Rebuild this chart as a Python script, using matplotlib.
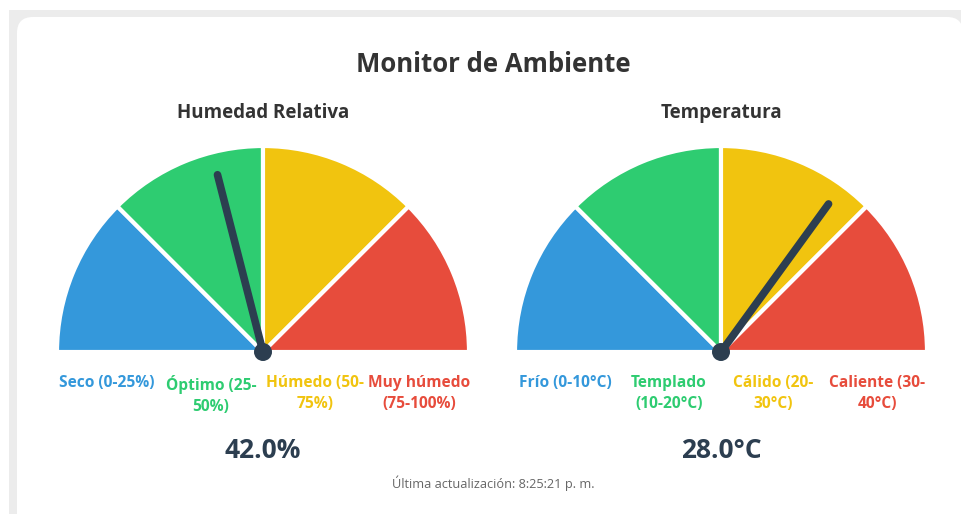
import matplotlib.pyplot as plt
import matplotlib as mpl
from matplotlib.patches import Wedge, Rectangle, FancyBboxPatch, Circle
import numpy as np
mpl.use('Agg')

plt.rcParams['font.family'] = ['Open Sans', 'DejaVu Sans']

# datos
titulo = 'Monitor de Ambiente'
colores = ['#3498db', '#2ecc71', '#f1c40f', '#e74c3c']

hum_titulo = 'Humedad Relativa'
hum_valor = 42.0
hum_min, hum_max = 0, 100
hum_labels = ['Seco (0-25%)', 'Óptimo (25-\n50%)', 'Húmedo (50-\n75%)', 'Muy húmedo\n(75-100%)']
hum_texto = '42.0%'

temp_titulo = 'Temperatura'
temp_valor = 28.0
temp_min, temp_max = 0, 40
temp_labels = ['Frío (0-10°C)', 'Templado\n(10-20°C)', 'Cálido (20-\n30°C)', 'Caliente (30-\n40°C)']
temp_texto = '28.0°C'

pie = 'Última actualización: 8:25:21 p. m.'

W, H = 961, 514
fig = plt.figure(figsize=(W / 100, H / 100), dpi=100)
ax = fig.add_axes([0, 0, 1, 1])
ax.set_xlim(0, W)
ax.set_ylim(0, H)
ax.axis('off')

# fondo gris y tarjeta blanca
ax.add_patch(Rectangle((9, -20), W, H - 10 + 20, facecolor='#ececec', edgecolor='none'))
ax.add_patch(FancyBboxPatch((17, -40), 946, H - 17 + 40, boxstyle='round,pad=0,rounding_size=16',
                            facecolor='white', edgecolor='none'))

ax.text(493, H - 65, titulo, ha='center', va='center', fontsize=18.5, fontweight='bold', color='#333333')


def gauge(cx, nombre, valor, vmin, vmax, labels, texto):
    cy = H - 352
    r = 206
    ax.text(cx, H - 113, nombre, ha='center', va='center', fontsize=13.5, fontweight='bold', color='#333333')
    n = len(colores)
    for i in range(n):
        a1 = 180 - (i + 1) * 180 / n
        a2 = 180 - i * 180 / n
        ax.add_patch(Wedge((cx, cy), r, a1, a2, facecolor=colores[i], edgecolor='white', linewidth=3))
    frac = (valor - vmin) / (vmax - vmin)
    ang = np.radians(180 - frac * 180)
    L = 183
    ax.plot([cx, cx + L * np.cos(ang)], [cy, cy + L * np.sin(ang)], color='#2c3e50',
            linewidth=5.5, solid_capstyle='round', zorder=5)
    ax.add_patch(Circle((cx, cy), 9, facecolor='#2c3e50', edgecolor='none', zorder=6))
    for i, lab in enumerate(labels):
        ax.text(cx - 156 + i * 104, H - 375, lab, ha='center', va='top', multialignment='center',
                fontsize=11.2, fontweight='bold', color=colores[i], linespacing=1.45)
    ax.text(cx, H - 450, texto, ha='center', va='center', fontsize=19, fontweight='bold', color='#2c3e50')


gauge(263, hum_titulo, hum_valor, hum_min, hum_max, hum_labels, hum_texto)
gauge(721, temp_titulo, temp_valor, temp_min, temp_max, temp_labels, temp_texto)

ax.text(493, H - 483, pie, ha='center', va='center', fontsize=9.2, color='#666666')

fig.savefig('out.png', dpi=100)
